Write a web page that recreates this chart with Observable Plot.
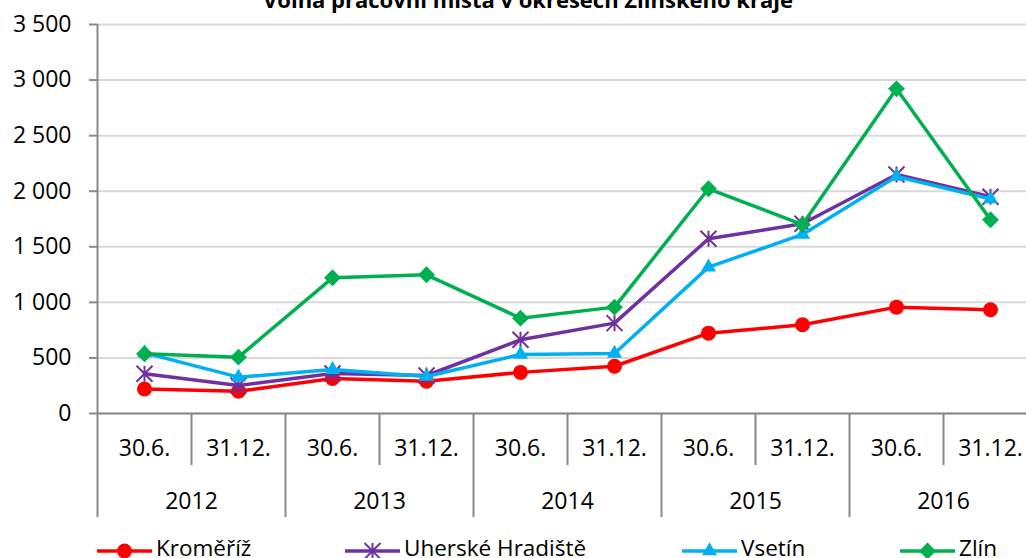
<!DOCTYPE html>
<html><head><meta charset="utf-8">
<script src="https://cdn.jsdelivr.net/npm/d3@7"></script>
<script src="https://cdn.jsdelivr.net/npm/@observablehq/plot@0.6"></script>
<style>
html,body{margin:0;padding:0;background:#fff;overflow:hidden;}
#wrap{position:relative;width:1026px;height:558px;overflow:hidden;font-family:"Open Sans",sans-serif;color:#000;}
#title{position:absolute;left:0;width:1056px;top:-12.5px;text-align:center;font-weight:bold;font-size:22px;line-height:22px;white-space:nowrap;}
#chart{position:absolute;left:0;top:0;width:1037px;}
#chart svg{max-width:none !important;}
.lg-sw{position:absolute;top:540.7px;}
.lg-tx{position:absolute;top:537px;font-size:22.5px;line-height:22.5px;white-space:nowrap;}
</style>
</head><body>
<div id="wrap">
  <div id="chart"></div>
  <div id="title">Volná pracovní místa v okresech Zlínského kraje</div>
  <div id="legend"></div>
</div>
<script>
// ---- data ----
const periods = ["30.6.","31.12.","30.6.","31.12.","30.6.","31.12.","30.6.","31.12.","30.6.","31.12."];
const years = ["2012","2013","2014","2015","2016"];
const seriesNames = ["Kroměříž","Uherské Hradiště","Vsetín","Zlín"];
const kromeriz = [220, 200, 315, 290, 370, 425, 723, 798, 957, 933];
const uherskeHradiste = [357, 252, 360, 342, 663, 813, 1572, 1707, 2150, 1950];
const vsetin = [545, 327, 395, 333, 531, 540, 1317, 1611, 2133, 1930];
const zlin = [537, 507, 1221, 1248, 858, 957, 2022, 1700, 2921, 1743];
const yTicks = [0, 500, 1000, 1500, 2000, 2500, 3000, 3500];

const values = [kromeriz, uherskeHradiste, vsetin, zlin];
const colors = ["#ff0000", "#7030a0", "#00b0f0", "#00b050"];

// Excel-style star marker: X plus vertical bar
const excelStar = {
  draw(context, size) {
    const r = Math.sqrt(size / Math.PI);
    context.moveTo(0, -r); context.lineTo(0, r);
    context.moveTo(-r, -r); context.lineTo(r, r);
    context.moveTo(-r, r); context.lineTo(r, -r);
  }
};
const markers = [
  {symbol: "circle", r: 7.5, filled: true},
  {symbol: excelStar, r: 8, filled: false},
  {symbol: "triangle", r: 5.6, filled: true},
  {symbol: "diamond2", r: 7.6, filled: true}
];

const n = periods.length;
const data = seriesNames.flatMap((s, k) => values[k].map((v, i) => ({series: s, k, x: i + 0.5, v})));

const innerBounds = d3.range(1, n, 2);
const yearBounds = d3.range(0, n + 1, 2);
const periodMids = d3.range(n).map(i => i + 0.5);
const yearMids = years.map((_, j) => 2 * j + 1);

const locale = d3.formatLocale({decimal: ",", thousands: "\u00a0", grouping: [3], currency: ["", ""]});
const fmt = locale.format(",d");

const gray = "#898989";
const seriesMarks = seriesNames.flatMap((s, k) => {
  const d = data.filter(e => e.k === k);
  const m = markers[k];
  return [
    Plot.line(d, {x: "x", y: "v", stroke: colors[k], strokeWidth: 3.5, strokeLinejoin: "round", strokeLinecap: "round"}),
    Plot.dot(d, m.filled
      ? {x: "x", y: "v", symbol: m.symbol, r: m.r, fill: colors[k], stroke: "none"}
      : {x: "x", y: "v", symbol: m.symbol, r: m.r, fill: "none", stroke: colors[k], strokeWidth: 2})
  ];
});

const chart = Plot.plot({
  width: 1037,
  height: 530,
  marginLeft: 97,
  marginRight: 0,
  marginTop: 24,
  marginBottom: 117,
  x: {domain: [0, n], axis: null},
  y: {domain: [0, 3500], axis: null},
  style: {fontFamily: "'Open Sans', sans-serif", fontSize: "23px", color: "#000", background: "#fff", maxWidth: "none"},
  marks: [
    Plot.gridY({ticks: yTicks, stroke: "#d9d9d9", strokeOpacity: 1, strokeWidth: 2}),
    Plot.axisY({ticks: yTicks, tickSize: 8, tickPadding: 18, tickFormat: fmt, stroke: gray, strokeWidth: 2, strokeOpacity: 1, fontSize: 23, label: null}),
    Plot.ruleX([0], {y1: 0, y2: 3500, stroke: gray, strokeWidth: 2}),
    Plot.ruleY([0], {stroke: gray, strokeWidth: 2}),
    Plot.axisX({ticks: innerBounds, tickSize: 52, tickFormat: () => "", stroke: gray, strokeWidth: 2, strokeOpacity: 1, label: null}),
    Plot.axisX({ticks: yearBounds, tickSize: 104, tickFormat: () => "", stroke: gray, strokeWidth: 2, strokeOpacity: 1, label: null}),
    Plot.axisX({ticks: periodMids, tickSize: 0, tickPadding: 26, tickFormat: d => periods[Math.floor(d)], fontSize: 23, label: null}),
    Plot.axisX({ticks: yearMids, tickSize: 0, tickPadding: 79, tickFormat: d => years[(d - 1) / 2], fontSize: 23, label: null}),
    ...seriesMarks
  ]
});
chart.style.maxWidth = "none";
chart.style.width = "1037px";
chart.style.height = "530px";
document.getElementById("chart").appendChild(chart);

// ---- legend ----
const legendLeft = [97, 345, 682, 900];
const legend = document.getElementById("legend");
seriesNames.forEach((s, k) => {
  const m = markers[k];
  const sw = 55;
  const svg = d3.create("svg").attr("class", "lg-sw").attr("width", sw).attr("height", 20)
    .style("left", legendLeft[k] + "px").style("overflow", "visible");
  svg.append("line").attr("x1", 0).attr("x2", sw).attr("y1", 10).attr("y2", 10)
    .attr("stroke", colors[k]).attr("stroke-width", 3.5);
  const type = typeof m.symbol === "string"
    ? ({circle: d3.symbolCircle, triangle: d3.symbolTriangle, diamond2: d3.symbolDiamond2})[m.symbol]
    : m.symbol;
  const p = svg.append("path").attr("transform", `translate(${sw / 2},10)`)
    .attr("d", d3.symbol(type, Math.PI * m.r * m.r)());
  if (m.filled) p.attr("fill", colors[k]);
  else p.attr("fill", "none").attr("stroke", colors[k]).attr("stroke-width", 2);
  legend.appendChild(svg.node());
  const t = document.createElement("div");
  t.className = "lg-tx";
  t.style.left = (legendLeft[k] + sw + 4) + "px";
  t.textContent = s;
  legend.appendChild(t);
});
</script>
</body></html>
